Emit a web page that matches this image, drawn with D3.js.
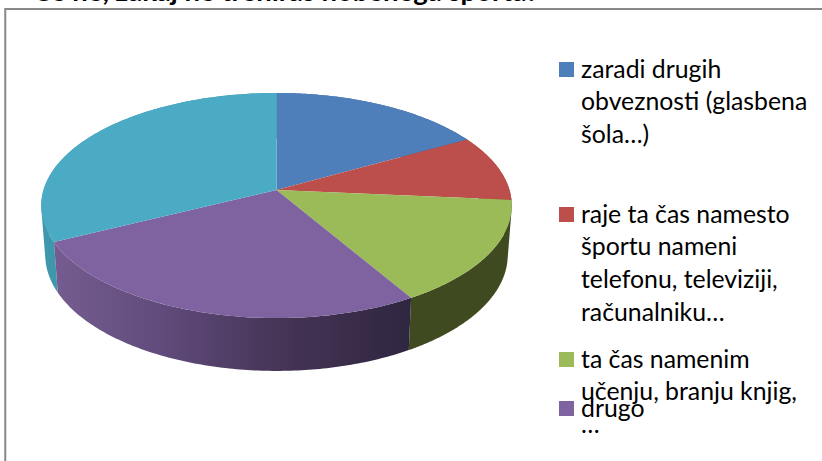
<!DOCTYPE html>
<html><head><meta charset="utf-8">
<script src="https://cdn.jsdelivr.net/npm/d3@7"></script>
<style>html,body{margin:0;padding:0;background:#fff;overflow:hidden}svg{display:block}</style>
</head><body><div id="c"></div>
<script>
const values = [16.9, 9.5, 15.1, 26.2, 32.3];
const topColors = ["#4f7fba", "#bc4f4b", "#9bbb59", "#7f62a0", "#4babc5"];
const wallColors = ["#3a5f8c", "#8c3a38", "#3f4a20", "url(#wallPurple)", "#3f97ae"];
const legendLines = [
  ["zaradi drugih", "obveznosti (glasbena", "šola…)"],
  ["raje ta čas namesto", "športu nameni", "telefonu, televiziji,", "računalniku…"],
  ["ta čas namenim", "učenju, branju knjig,", "…"],
  ["drugo"]
];
const titleText = "Če ne, zakaj ne treniraš nobenega športa?";

const W = 822, H = 461;
const svg = d3.select("#c").append("svg").attr("width", W).attr("height", H);
const FONT = "Lato, 'Open Sans', sans-serif";

// Title, cut off by the top of the picture
svg.append("text").attr("x", 33).attr("y", 1).attr("font-family", FONT).attr("font-weight", 700)
  .attr("font-size", 27.5).attr("fill", "#000").text(titleText);

// Frame, open to the right and the bottom
svg.append("path").attr("d", "M5.25,461V9H822").attr("fill", "none").attr("stroke", "#888").attr("stroke-width", 2);

// Perspective projection of the disc
const cx = 276.5, cy = 190, R = 233, Ry = 110.4, k = 0.138;
const upper = a => { const f = 1 / (1 + k * Math.cos(a)); return [cx + R * Math.sin(a) * f, cy - Ry * Math.cos(a) * f]; };
const lower = a => { const p = upper(a); return [cx + 0.983 * (p[0] - cx), 239 + 1.03 * (p[1] - cy)]; };
const pie = d3.pie().sort(null).startAngle(0).endAngle(2 * Math.PI)(values);
const samples = d => d3.range(0, 121).map(i => d.startAngle + (d.endAngle - d.startAngle) * i / 120);
const line = d3.line();

const defs = svg.append("defs");
const grad = defs.append("linearGradient").attr("id", "wallPurple").attr("gradientUnits", "userSpaceOnUse")
  .attr("x1", 55).attr("x2", 410).attr("y1", 0).attr("y2", 0);
[[0, "#755c90"], [0.3, "#604b7c"], [0.63, "#463556"], [1, "#2f2640"]].forEach(s =>
  grad.append("stop").attr("offset", s[0]).attr("stop-color", s[1]));

// Walls, back to front: one quad per sample so the silhouette joins both rims
[0, 1, 4, 2, 3].forEach(i => {
  const s = samples(pie[i]);
  const quads = d3.pairs(s).map(([a, b]) => {
    const q = [upper(a), upper(b), lower(b), lower(a)];
    // keep one winding so overlapping quads never cancel
    return line(d3.polygonArea(q) < 0 ? q.reverse() : q) + "Z";
  });
  svg.append("path").attr("fill", wallColors[i]).attr("d", quads.join(""));
});
// Top faces
pie.forEach((d, i) => {
  svg.append("path").attr("fill", topColors[i])
    .attr("d", line([[cx, cy]].concat(samples(d).map(upper))) + "Z");
});

// Legend
const legendX = 559, textX = 581, box = 15, lineH = 32.8;
const legendTop = [62, 207, 352, 401];
legendLines.forEach((lines, i) => {
  svg.append("rect").attr("x", legendX).attr("y", legendTop[i]).attr("width", box).attr("height", box).attr("fill", topColors[i]);
  const t = svg.append("text").attr("font-family", FONT).attr("font-size", 24.8).attr("fill", "#000");
  lines.forEach((l, j) => t.append("tspan").attr("x", textX).attr("y", legendTop[i] + 15.5 + j * lineH).text(l));
});
</script></body></html>
